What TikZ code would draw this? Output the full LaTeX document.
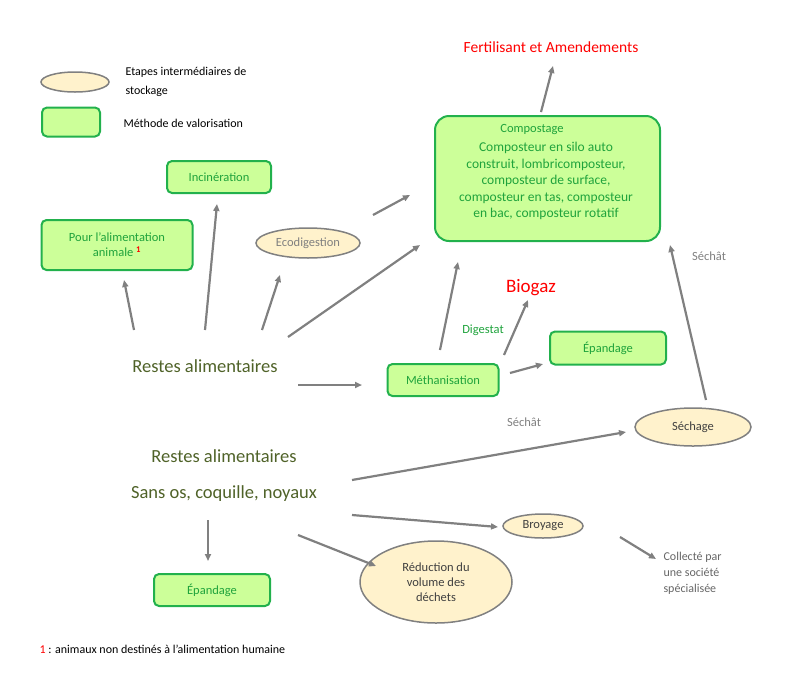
\documentclass[tikz,border=0pt]{standalone}
\usepackage{fontspec}
\setmainfont{Carlito}
\usetikzlibrary{positioning,arrows.meta,shapes.geometric}
\definecolor{vfill}{HTML}{CCFF99}
\definecolor{vline}{HTML}{22B14C}
\definecolor{vtext}{HTML}{1FA33C}
\definecolor{efill}{HTML}{FFF2CC}
\definecolor{eline}{HTML}{808080}
\definecolor{olive}{HTML}{4F6228}
\tikzset{>={Triangle[length=7pt,width=6pt]},
  methode/.style={draw=vline,fill=vfill,line width=2pt,rounded corners=5pt,text=vtext,font=\fontsize{12.5}{15}\selectfont,align=center},
  etape/.style={ellipse,draw=eline,fill=efill,line width=1.5pt,inner sep=0pt,font=\fontsize{12.5}{15}\selectfont,align=center},
  fleche/.style={->,draw=eline,line width=2.2pt},
  restes/.style={text=olive,font=\fontsize{18.5}{20}\selectfont}}

\begin{document}
\begin{tikzpicture}[x=1pt,y=-1pt]
\useasboundingbox (0,0) rectangle (790,681);
% legende
\node[etape,minimum width=68pt,minimum height=20pt] (legE) at (75,82) {};
\node[anchor=west,font=\fontsize{12}{19}\selectfont,align=left] (legEt) at (122,82) {Etapes intermédiaires de\\stockage};
\node[methode,minimum width=58pt,minimum height=29pt] (legM) at (71,122) {};
\node[anchor=west,font=\fontsize{12}{14}\selectfont] (legMt) at (120,123) {Méthode de valorisation};
% methodes
\node[methode,minimum width=104pt,minimum height=32pt] (incin) at (219,177) {Incinération};
\node[methode,minimum width=151pt,minimum height=50pt] (alim) at (117,245) {Pour l’alimentation\\animale \textcolor{red}{\textsuperscript{\bfseries 1}}};
\node[methode,rounded corners=14pt,minimum width=225pt,minimum height=125pt,anchor=north west] (compost) at (434,115) {};
\node[text=vtext,font=\fontsize{12.5}{15}\selectfont] (compt) at (532,130) {Compostage};
\node[text=vtext,font=\fontsize{13.5}{16.5}\selectfont,align=center,below=0pt of compt.south,xshift=14pt] (compd) {Composteur en silo auto\\construit, lombricomposteur,\\composteur de surface,\\composteur en tas, composteur\\en bac, composteur rotatif};
\node[methode,minimum width=111pt,minimum height=32pt] (metha) at (443,380) {Méthanisation};
\node[methode,minimum width=116pt,minimum height=33pt] (epand1) at (608,348) {Épandage};
\node[methode,minimum width=116pt,minimum height=32pt] (epand2) at (212,590) {Épandage};
% etapes
\node[etape,minimum width=104pt,minimum height=30pt,text=eline] (ecodig) at (308,243) {Ecodigestion};
\node[etape,minimum width=116pt,minimum height=38pt,text=black!75] (sechage) at (693,427) {Séchage};
\node[etape,minimum width=80pt,minimum height=24pt,text=black!75] (broyage) at (543,526) {Broyage};
\node[etape,minimum width=152pt,minimum height=82pt,text=black!75] (reduc) at (436,582) {Réduction du\\volume des\\déchets};
% textes
\node[text=red,font=\fontsize{15.5}{18}\selectfont] (fertil) at (551,47) {Fertilisant et Amendements};
\node[text=red,font=\fontsize{19}{22}\selectfont] (biogaz) at (531,288) {Biogaz};
\node[text=vtext,font=\fontsize{12.5}{15}\selectfont] (digestat) at (483,330) {Digestat};
\node[text=eline,font=\fontsize{12.5}{15}\selectfont] (sechat1) at (524,422) {Séchât};
\node[text=eline,font=\fontsize{12.5}{15}\selectfont] (sechat2) at (709,256) {Séchât};
\node[restes] (restes1) at (205,366) {Restes alimentaires};
\node[restes] (restes2) at (224,456) {Restes alimentaires};
\node[restes] (sansos) at (224,494) {Sans os, coquille, noyaux};
\node[anchor=north west,text=black!60,font=\fontsize{12}{16}\selectfont,align=left] (collecte) at (660,549) {Collecté par\\une société\\spécialisée};
\node[anchor=west,font=\fontsize{12}{14}\selectfont] (note) at (36,649) {\textcolor{red}{1} : animaux non destinés à l’alimentation humaine};
% fleches
\coordinate (a1) at (541,112); \coordinate (b1) at (553,66);
\coordinate (a2) at (134,330); \coordinate (b2) at (124,280);
\coordinate (a3) at (205,330); \coordinate (b3) at (217,204);
\coordinate (a4) at (262,330); \coordinate (b4) at (280,275);
\coordinate (a5) at (288,337); \coordinate (b5) at (420,245);
\coordinate (a6) at (373,215); \coordinate (b6) at (410,195);
\coordinate (a7) at (440,350); \coordinate (b7) at (458,262);
\coordinate (a8) at (504,355); \coordinate (b8) at (528,300);
\coordinate (a9) at (510,373); \coordinate (b9) at (543,364);
\coordinate (a10) at (298,385); \coordinate (b10) at (362,385);
\coordinate (a11) at (706,400); \coordinate (b11) at (670,245);
\coordinate (a12) at (352,480); \coordinate (b12) at (626,432);
\coordinate (a13) at (352,515); \coordinate (b13) at (498,527);
\coordinate (a14) at (208,520); \coordinate (b14) at (208,561);
\coordinate (a15) at (298,535); \coordinate (b15) at (376,566);
\coordinate (a16) at (620,537); \coordinate (b16) at (656,559);
\foreach \i in {1,...,16}
  \draw[fleche] (a\i) -- (b\i);
\end{tikzpicture}
\end{document}
